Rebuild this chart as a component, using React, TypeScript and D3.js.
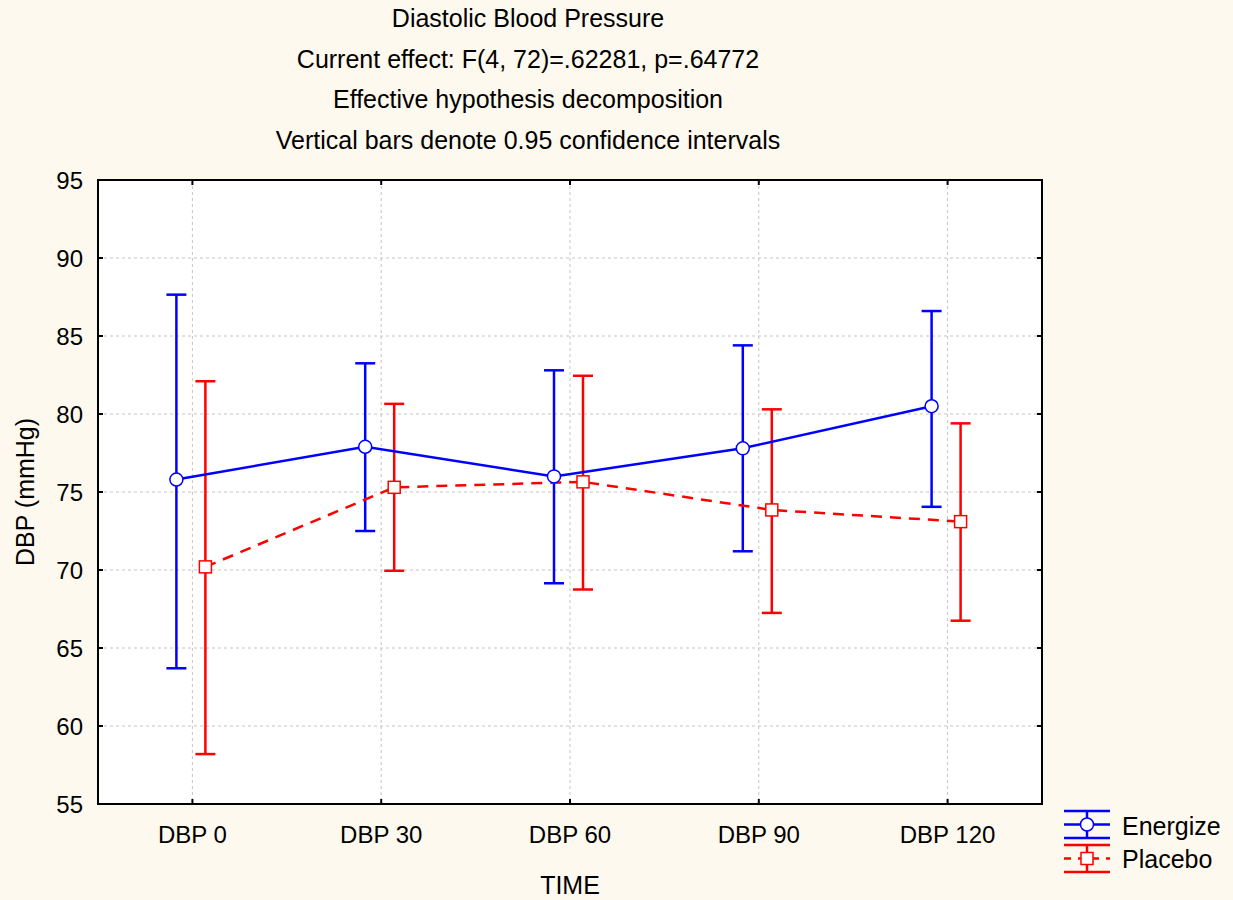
import React from "react";
import * as d3 from "d3";

const categories = ["DBP 0", "DBP 30", "DBP 60", "DBP 90", "DBP 120"];
const energizeMean = [75.8, 77.9, 76.0, 77.8, 80.5];
const energizeLow = [63.7, 72.5, 69.15, 71.2, 74.05];
const energizeHigh = [87.65, 83.25, 82.8, 84.4, 86.6];
const placeboMean = [70.2, 75.3, 75.65, 73.85, 73.1];
const placeboLow = [58.2, 69.95, 68.75, 67.25, 66.75];
const placeboHigh = [82.1, 80.65, 82.45, 80.3, 79.4];
const yTicks = [55, 60, 65, 70, 75, 80, 85, 90, 95];
const titleLines = [
  "Diastolic Blood Pressure",
  "Current effect: F(4, 72)=.62281, p=.64772",
  "Effective hypothesis decomposition",
  "Vertical bars denote 0.95 confidence intervals",
];

const W = 1233;
const H = 900;
const L = 98, R = 1042, T = 180, B = 804;
const FONT = "'Liberation Sans', Arial, sans-serif";
const BLUE = "#0000ff";
const RED = "#ff0000";

export default function App() {
  const x = d3.scalePoint<string>().domain(categories).range([L, R]).padding(0.5);
  const y = d3.scaleLinear().domain([55, 95]).range([B, T]);
  const offE = -16;
  const offP = 13;
  const capHalf = 10;

  const eData = categories.map((c, i) => ({ x: (x(c) as number) + offE, m: energizeMean[i], lo: energizeLow[i], hi: energizeHigh[i] }));
  const pData = categories.map((c, i) => ({ x: (x(c) as number) + offP, m: placeboMean[i], lo: placeboLow[i], hi: placeboHigh[i] }));

  const eLine = d3.line<any>().x((d) => d.x).y((d) => y(d.m))(eData) || "";
  const pLine = d3.line<any>().x((d) => d.x).y((d) => y(d.m))(pData) || "";

  const errBars = (data: any[], color: string) =>
    data.map((d, i) => (
      <g key={i} stroke={color} strokeWidth={2.5}>
        <line x1={d.x} x2={d.x} y1={y(d.lo)} y2={y(d.hi)} />
        <line x1={d.x - capHalf} x2={d.x + capHalf} y1={y(d.lo)} y2={y(d.lo)} />
        <line x1={d.x - capHalf} x2={d.x + capHalf} y1={y(d.hi)} y2={y(d.hi)} />
      </g>
    ));

  const legX1 = 1064, legX2 = 1110, legCx = 1087;
  return (
    <svg width={W} height={H} style={{ position: "absolute", left: 0, top: 0, display: "block" }} fontFamily={FONT}>
      <rect x={0} y={0} width={W} height={H} fill="#fdf9ee" />
      {titleLines.map((t, i) => (
        <text key={i} x={528} y={27 + i * 40.5} textAnchor="middle" fontSize={25} fill="#000">{t}</text>
      ))}
      <rect x={L} y={T} width={R - L} height={B - T} fill="#ffffff" />
      {/* grid */}
      {yTicks.slice(1, -1).map((v) => (
        <line key={v} x1={L} x2={R} y1={y(v)} y2={y(v)} stroke="#c4c4c4" strokeWidth={1} strokeDasharray="3,3" />
      ))}
      {categories.map((c) => (
        <line key={c} x1={x(c)} x2={x(c)} y1={T} y2={B} stroke="#c4c4c4" strokeWidth={1} strokeDasharray="3,3" />
      ))}
      {/* ticks */}
      {yTicks.map((v) => (
        <g key={v}>
          <line x1={L} x2={L + 5} y1={y(v)} y2={y(v)} stroke="#000" strokeWidth={2} />
          <line x1={R} x2={R - 5} y1={y(v)} y2={y(v)} stroke="#000" strokeWidth={2} />
          <text x={L - 15} y={y(v) + 9} textAnchor="end" fontSize={24}>{v}</text>
        </g>
      ))}
      {categories.map((c) => (
        <g key={c}>
          <line x1={x(c)} x2={x(c)} y1={B} y2={B - 5} stroke="#000" strokeWidth={2} />
          <line x1={x(c)} x2={x(c)} y1={T} y2={T + 5} stroke="#000" strokeWidth={2} />
          <text x={x(c)} y={B + 39} textAnchor="middle" fontSize={24}>{c}</text>
        </g>
      ))}
      <rect x={L} y={T} width={R - L} height={B - T} fill="none" stroke="#000" strokeWidth={2} />
      {/* axis labels */}
      <text x={570} y={894} textAnchor="middle" fontSize={25}>TIME</text>
      <text transform={`translate(34,${(T + B) / 2}) rotate(-90)`} textAnchor="middle" fontSize={25}>DBP (mmHg)</text>
      {/* series */}
      {errBars(eData, BLUE)}
      {errBars(pData, RED)}
      <path d={eLine} fill="none" stroke={BLUE} strokeWidth={2.5} />
      <path d={pLine} fill="none" stroke={RED} strokeWidth={2.5} strokeDasharray="11,8" />
      {eData.map((d, i) => (
        <circle key={i} cx={d.x} cy={y(d.m)} r={6.5} fill="#fff" stroke={BLUE} strokeWidth={1.5} />
      ))}
      {pData.map((d, i) => (
        <rect key={i} x={d.x - 6} y={y(d.m) - 6} width={12} height={12} fill="#fff" stroke={RED} strokeWidth={1.5} />
      ))}
      {/* legend */}
      <g stroke={BLUE} strokeWidth={2.5}>
        <line x1={legX1} x2={legX2} y1={811} y2={811} />
        <line x1={legX1} x2={legX2} y1={838} y2={838} />
        <line x1={legX1} x2={legX2} y1={824.5} y2={824.5} />
        <line x1={legCx} x2={legCx} y1={811} y2={838} />
      </g>
      <circle cx={legCx} cy={824.5} r={6.5} fill="#fff" stroke={BLUE} strokeWidth={1.5} />
      <g stroke={RED} strokeWidth={2.5}>
        <line x1={legX1} x2={legX2} y1={845} y2={845} />
        <line x1={legX1} x2={legX2} y1={872} y2={872} />
        <line x1={legX1} x2={legX2} y1={858.5} y2={858.5} strokeDasharray="7,7" />
        <line x1={legCx} x2={legCx} y1={845} y2={872} />
      </g>
      <rect x={legCx - 6} y={852.5} width={12} height={12} fill="#fff" stroke={RED} strokeWidth={1.5} />
      <text x={1122} y={835} fontSize={25}>Energize</text>
      <text x={1122} y={868} fontSize={25}>Placebo</text>
    </svg>
  );
}
